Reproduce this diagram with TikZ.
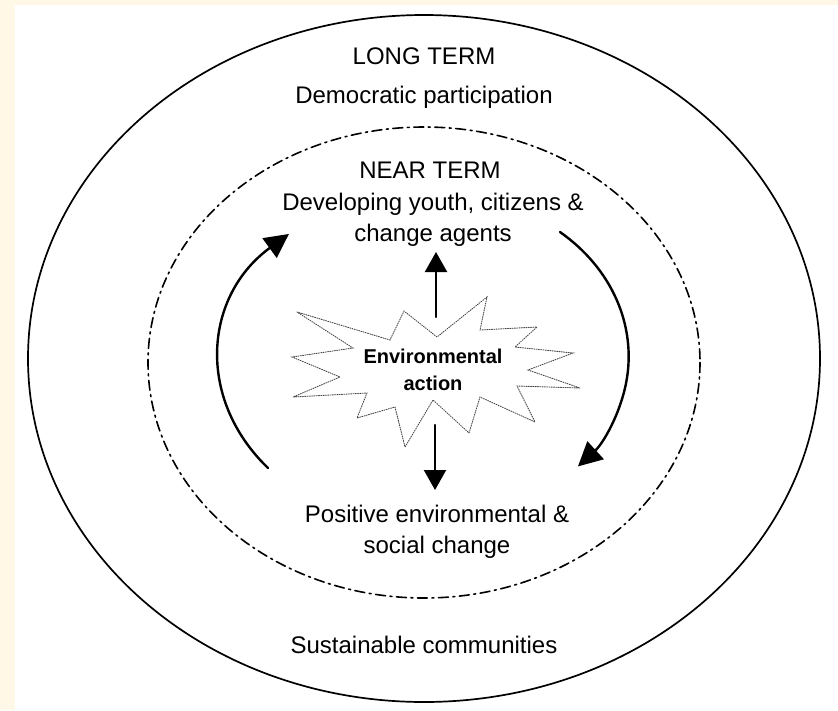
\documentclass[tikz,border=0pt]{standalone}
\usepackage{fontspec}
\setmainfont{Liberation Sans}
\usetikzlibrary{arrows.meta,positioning}
\definecolor{cream}{HTML}{FFF8E6}

\begin{document}
\begin{tikzpicture}[x=1pt, y=-1pt, line cap=round,
    ring/.style={line width=1.7pt},
    nearring/.style={line width=1.6pt, dash pattern=on 10pt off 4.5pt on 2pt off 4.5pt},
    burst/.style={line width=0.9pt, gray!55!black, dash pattern=on 1pt off 1.3pt},
    cycarrow/.style={line width=2.4pt, -{Triangle[length=24pt,width=24pt]}},
    outarrow/.style={line width=2.2pt, -{Triangle[length=20pt,width=22pt]}}]
   \fill[cream] (0,0) rectangle (838,710);
   \fill[white] (15,5) rectangle (838,710);
   \useasboundingbox (0,0) rectangle (838,710);
   % the two terms
   \draw[ring] (424,358.5) ellipse [x radius=396, y radius=343.5];
   \draw[nearring] (424,362.5) ellipse [x radius=276, y radius=235.5];
   % environmental action burst
   \draw[burst] (297,312) -- (390,340) -- (404,311) -- (437,337) -- (487,297) -- (480,330)
     -- (537,327) -- (515,347) -- (573,353) -- (528,370) -- (580,388) -- (517,386)
     -- (535,422) -- (480,397) -- (469,433) -- (433,400) -- (405,447) -- (395,407)
     -- (357,418) -- (367,393) -- (293,397) -- (340,377) -- (292,357) -- (353,348) -- cycle;
   \begin{scope}[every node/.style={align=center, font=\fontsize{24}{31.5}\selectfont}]
    \node (long) at (424,56) {LONG TERM};
    \node (demo) at (424,97) {Democratic participation};
    \node (near) at (430,170) {NEAR TERM};
    \node (youth) at (433,220) {Developing youth, citizens \&\\change agents};
    \node (change) at (437,532) {Positive environmental \&\\social change};
    \node (sust) at (424,645) {Sustainable communities};
    \node (env) [font=\bfseries\fontsize{20}{27}\selectfont] at (433,370) {Environmental\\action};
   \end{scope}
   % arrows
   \coordinate (upS) at (436,317);
   \coordinate (upE) at (436,252);
   \coordinate (dnS) at (435,425);
   \coordinate (dnE) at (435,490);
   \coordinate (leftS) at (268,468);
   \coordinate (rightS) at (560,232);
   \draw[outarrow] (upS) -- (upE);
   \draw[outarrow] (dnS) -- (dnE);
   \draw[cycarrow] (leftS) arc [start angle=141, end angle=227, x radius=220, y radius=172];
   \draw[cycarrow] (rightS) arc [start angle=-50.6, end angle=43.1, x radius=188, y radius=161];
\end{tikzpicture}
\end{document}
